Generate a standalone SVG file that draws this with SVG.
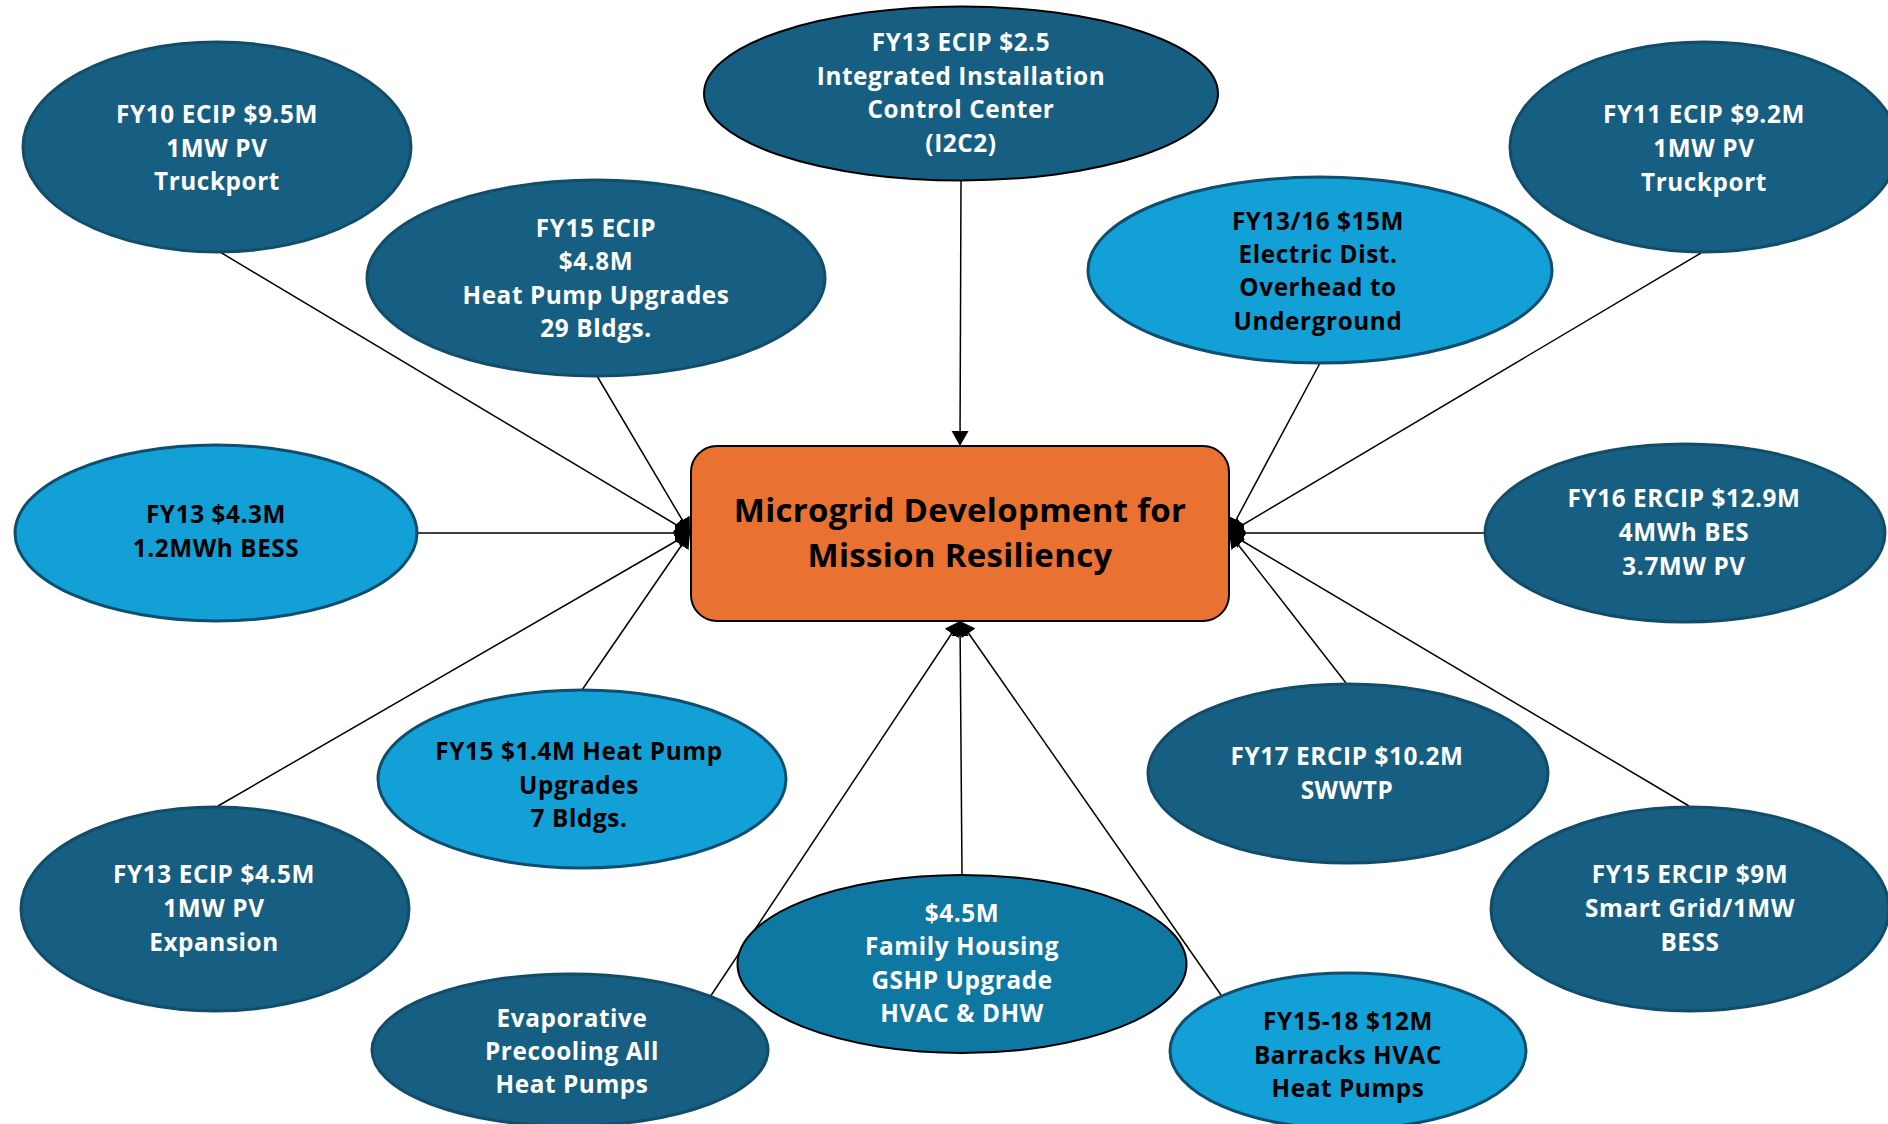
<svg xmlns="http://www.w3.org/2000/svg" width="1888" height="1124" viewBox="0 0 1888 1124">
<style>
.dk{fill:#175f82;stroke:#114c69;stroke-width:3}
.lt{fill:#12a0d7;stroke:#0f4e6e;stroke-width:3}
.md{fill:#0e78a2;stroke:#000;stroke-width:2}
.dkb{fill:#175f82;stroke:#000;stroke-width:2}
text{font-family:"Open Sans","Liberation Sans",sans-serif;font-weight:700;font-size:24.3px;letter-spacing:0.6px;text-anchor:middle}
.w{fill:#fff}
.b{fill:#000}
.c{font-size:33px;letter-spacing:0.3px;fill:#000}
.ln{stroke:#000;stroke-width:1.5;fill:none;marker-end:url(#ah)}
</style>
<defs>
<marker id="ah" markerUnits="userSpaceOnUse" markerWidth="16" markerHeight="18" refX="15" refY="8.5" orient="auto" viewBox="0 0 16 18">
<path d="M0,0 L15,8.5 L0,17 z" fill="#000"/>
</marker>
</defs>
<rect width="1888" height="1124" fill="#fff"/>
<g id="connectors">
<line class="ln" x1="961" y1="181" x2="960" y2="446"/>
<line class="ln" x1="220" y1="252" x2="690" y2="533"/>
<line class="ln" x1="597" y1="376" x2="690" y2="533"/>
<line class="ln" x1="417" y1="533" x2="690" y2="533"/>
<line class="ln" x1="582" y1="690" x2="690" y2="533"/>
<line class="ln" x1="218" y1="806" x2="690" y2="533"/>
<line class="ln" x1="1701" y1="253" x2="1229" y2="533"/>
<line class="ln" x1="1320" y1="363" x2="1229" y2="533"/>
<line class="ln" x1="1485" y1="533" x2="1229" y2="533"/>
<line class="ln" x1="1346" y1="683" x2="1229" y2="533"/>
<line class="ln" x1="1689" y1="806" x2="1229" y2="533"/>
<line class="ln" x1="962" y1="875" x2="960" y2="621"/>
<line class="ln" x1="710" y1="997" x2="960" y2="621"/>
<line class="ln" x1="1221" y1="995" x2="960" y2="621"/>
</g>
<g id="center">
<rect x="691" y="446" width="538" height="175" rx="26" ry="26" fill="#e97132" stroke="#000" stroke-width="2"/>
<text class="c" x="960" y="522">Microgrid Development for</text>
<text class="c" x="960" y="567">Mission Resiliency</text>
</g>
<g id="n-fy10">
<ellipse class="dk" cx="217" cy="147" rx="194" ry="105"/>
<text class="w" x="217" y="123">FY10 ECIP $9.5M</text>
<text class="w" x="217" y="157">1MW PV</text>
<text class="w" x="217" y="190">Truckport</text>
</g>
<g id="n-i2c2">
<ellipse class="dkb" cx="961" cy="93.5" rx="257" ry="87"/>
<text class="w" x="961" y="51">FY13 ECIP $2.5</text>
<text class="w" x="961" y="85">Integrated Installation</text>
<text class="w" x="961" y="118">Control Center</text>
<text class="w" x="961" y="152">(I2C2)</text>
</g>
<g id="n-fy11">
<ellipse class="dk" cx="1704" cy="147" rx="194" ry="105"/>
<text class="w" x="1704" y="123">FY11 ECIP $9.2M</text>
<text class="w" x="1704" y="157">1MW PV</text>
<text class="w" x="1704" y="191">Truckport</text>
</g>
<g id="n-fy15ecip">
<ellipse class="dk" cx="596" cy="278" rx="229" ry="98"/>
<text class="w" x="596" y="237">FY15 ECIP</text>
<text class="w" x="596" y="270">$4.8M</text>
<text class="w" x="596" y="304">Heat Pump Upgrades</text>
<text class="w" x="596" y="337">29 Bldgs.</text>
</g>
<g id="n-fy1316">
<ellipse class="lt" cx="1320" cy="270" rx="232" ry="93"/>
<text class="b" x="1318" y="230">FY13/16 $15M</text>
<text class="b" x="1318" y="263">Electric Dist.</text>
<text class="b" x="1318" y="296">Overhead to</text>
<text class="b" x="1318" y="330">Underground</text>
</g>
<g id="n-bess">
<ellipse class="lt" cx="216" cy="533" rx="201" ry="88"/>
<text class="b" x="216" y="523">FY13 $4.3M</text>
<text class="b" x="216" y="557">1.2MWh BESS</text>
</g>
<g id="n-fy16">
<ellipse class="dk" cx="1685" cy="533" rx="200" ry="89"/>
<text class="w" x="1684" y="507">FY16 ERCIP $12.9M</text>
<text class="w" x="1684" y="541">4MWh BES</text>
<text class="w" x="1684" y="575">3.7MW PV</text>
</g>
<g id="n-fy15hp">
<ellipse class="lt" cx="582" cy="779" rx="204" ry="89"/>
<text class="b" x="579" y="760">FY15 $1.4M Heat Pump</text>
<text class="b" x="579" y="794">Upgrades</text>
<text class="b" x="579" y="827">7 Bldgs.</text>
</g>
<g id="n-fy17">
<ellipse class="dk" cx="1348" cy="773.5" rx="200" ry="89.5"/>
<text class="w" x="1347" y="765">FY17 ERCIP $10.2M</text>
<text class="w" x="1347" y="799">SWWTP</text>
</g>
<g id="n-fy13pv">
<ellipse class="dk" cx="215" cy="909" rx="194" ry="102"/>
<text class="w" x="214" y="883">FY13 ECIP $4.5M</text>
<text class="w" x="214" y="917">1MW PV</text>
<text class="w" x="214" y="951">Expansion</text>
</g>
<g id="n-fy15smart">
<ellipse class="dk" cx="1690" cy="909" rx="199" ry="102"/>
<text class="w" x="1690" y="883">FY15 ERCIP $9M</text>
<text class="w" x="1690" y="917">Smart Grid/1MW</text>
<text class="w" x="1690" y="951">BESS</text>
</g>
<g id="n-family">
<ellipse class="md" cx="962" cy="964" rx="224.5" ry="89"/>
<text class="w" x="962" y="922">$4.5M</text>
<text class="w" x="962" y="955">Family Housing</text>
<text class="w" x="962" y="989">GSHP Upgrade</text>
<text class="w" x="962" y="1022">HVAC &amp; DHW</text>
</g>
<g id="n-evap">
<ellipse class="dk" cx="570" cy="1050" rx="198" ry="76"/>
<text class="w" x="572" y="1027">Evaporative</text>
<text class="w" x="572" y="1060">Precooling All</text>
<text class="w" x="572" y="1093">Heat Pumps</text>
</g>
<g id="n-barracks">
<ellipse class="lt" cx="1348" cy="1051" rx="178" ry="78"/>
<text class="b" x="1348" y="1030">FY15-18 $12M</text>
<text class="b" x="1348" y="1064">Barracks HVAC</text>
<text class="b" x="1348" y="1097">Heat Pumps</text>
</g>
</svg>
